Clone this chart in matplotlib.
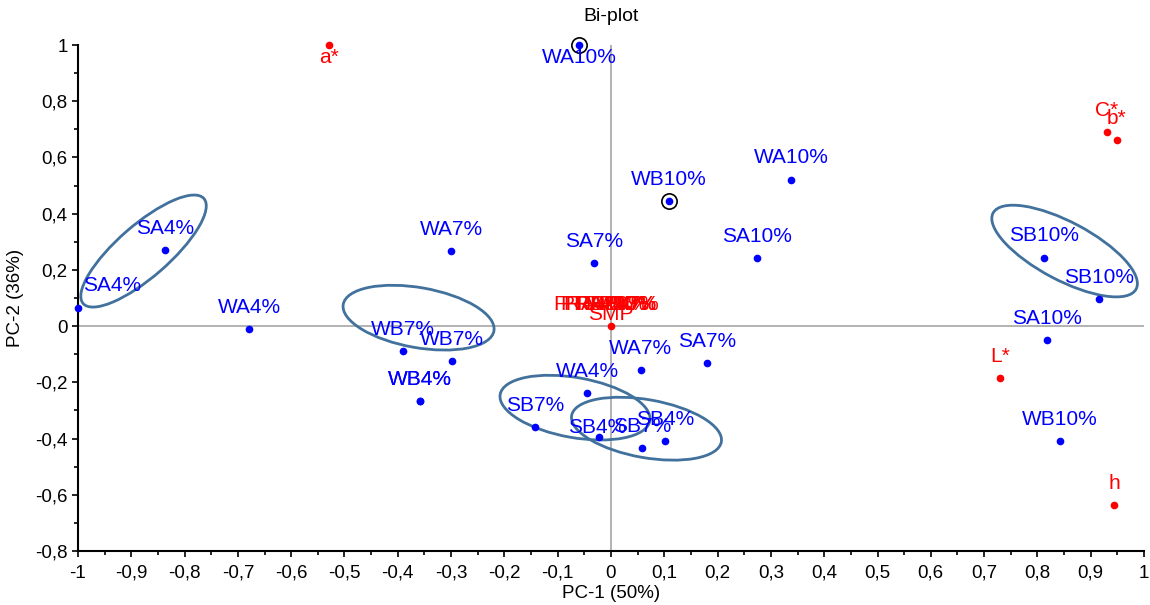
import matplotlib
matplotlib.use('Agg')
import matplotlib.pyplot as plt
import matplotlib.transforms as mtransforms
from matplotlib.patches import Ellipse
from matplotlib.ticker import MultipleLocator, FuncFormatter

plt.rcParams['font.family'] = ['Liberation Sans', 'DejaVu Sans']

# observations (blue)
obs_names = ['SA4%', 'SA4%', 'WA4%', 'WA7%', 'WB7%', 'WB7%', 'WB4%', 'WB4%',
             'WA10%', 'WB10%', 'WA10%', 'SA7%', 'SA10%', 'SA7%', 'WA7%', 'WA4%',
             'SB7%', 'SB4%', 'SB7%', 'SB4%', 'SB10%', 'SB10%', 'SA10%', 'WB10%']
obs_x = [-0.837, -1.0, -0.679, -0.300, -0.390, -0.298, -0.358, -0.358,
         -0.060, 0.109, 0.338, -0.032, 0.274, 0.180, 0.056, -0.045,
         -0.143, -0.023, 0.058, 0.101, 0.813, 0.916, 0.818, 0.842]
obs_y = [0.270, 0.063, -0.011, 0.267, -0.089, -0.125, -0.267, -0.267,
         1.0, 0.445, 0.520, 0.224, 0.242, -0.132, -0.157, -0.238,
         -0.359, -0.395, -0.434, -0.409, 0.244, 0.095, -0.050, -0.409]

# variables (red)
var_names = ['a*', 'C*', 'b*', 'L*', 'h', 'SMP']
var_x = [-0.529, 0.930, 0.949, 0.730, 0.944, 0.0]
var_y = [1.0, 0.689, 0.662, -0.185, -0.637, 0.0]

# overlapping labels sitting on the SMP point
center_names = ['FRA4%', 'PRA7%', 'FRB10%', 'PRB4%', 'RA10%', 'PB7%', 'FA7%']
center_shift = [-22, -14, -6, 2, 10, 16, 20]

# highlighted points
ring_x = [-0.060, 0.109]
ring_y = [1.0, 0.445]

# ellipses: center (data), width/height (px), angle
ell_cx = [-0.877, -0.361, -0.0675, 0.0666, 0.851]
ell_cy = [0.267, 0.030, -0.290, -0.365, 0.267]
ell_w = [160, 153, 152, 152, 162]
ell_h = [52, 60, 60, 58, 58]
ell_ang = [41, -10, -10, -10, -28]

# label offsets in pixels (default above the point)
offsets = {1: (34, 23), 8: (0, -12), 17: (-2, 10)}
var_offsets = {0: (0, -12), 5: (0, 12)}
up = 22

fig = plt.figure(figsize=(11.5, 6.05), dpi=100)
ax = fig.add_axes([0.0678, 0.0893, 0.9270, 0.8363])

ax.set_xlim(-1, 1)
ax.set_ylim(-0.8, 1)
ax.axhline(0, color='#a6a6a6', lw=1.2, zorder=1)
ax.axvline(0, color='#a6a6a6', lw=1.2, zorder=1)

for cx, cy, w, h, a in zip(ell_cx, ell_cy, ell_w, ell_h, ell_ang):
    e = Ellipse((0, 0), w, h, angle=a, fill=False, ec='#41719c', lw=2.0,
                transform=mtransforms.ScaledTranslation(cx, cy, ax.transData),
                zorder=2)
    ax.add_patch(e)

ax.plot(obs_x, obs_y, 'o', color='#0000ff', ms=4.5, zorder=4, clip_on=False)
ax.plot(var_x, var_y, 'o', color='#ff0000', ms=4.5, zorder=4, clip_on=False)
ax.plot(ring_x, ring_y, 'o', mfc='none', mec='black', ms=11, mew=1.2,
        zorder=4, clip_on=False)

px = 0.72  # pixels -> points
for i, (n, x, y) in enumerate(zip(obs_names, obs_x, obs_y)):
    dx, dy = offsets.get(i, (0, up))
    ax.annotate(n, (x, y), xytext=(dx * px, dy * px), textcoords='offset points',
                ha='center', va='center', color='#0000ff', fontsize=15, zorder=5)
for i, (n, x, y) in enumerate(zip(var_names, var_x, var_y)):
    dx, dy = var_offsets.get(i, (0, up))
    ax.annotate(n, (x, y), xytext=(dx * px, dy * px), textcoords='offset points',
                ha='center', va='center', color='#ff0000', fontsize=15, zorder=5)
for n, s in zip(center_names, center_shift):
    ax.annotate(n, (0, 0), xytext=(s * px, up * px), textcoords='offset points',
                ha='center', va='center', color='#ff0000', fontsize=15, zorder=5)


def fmt(v, pos):
    if abs(v) < 1e-9:
        v = 0
    return ('%g' % round(v, 2)).replace('.', ',')


ax.xaxis.set_major_locator(MultipleLocator(0.1))
ax.xaxis.set_minor_locator(MultipleLocator(0.05))
ax.yaxis.set_major_locator(MultipleLocator(0.2))
ax.yaxis.set_minor_locator(MultipleLocator(0.1))
ax.xaxis.set_major_formatter(FuncFormatter(fmt))
ax.yaxis.set_major_formatter(FuncFormatter(fmt))
ax.tick_params(which='both', direction='out', width=1.2, labelsize=13.5)
ax.tick_params(which='major', length=4)
ax.tick_params(which='minor', length=3)
ax.tick_params(axis='x', pad=6)

for s in ['top', 'right']:
    ax.spines[s].set_visible(False)
for s in ['left', 'bottom']:
    ax.spines[s].set_linewidth(1.5)

ax.set_xlabel('PC-1 (50%)', fontsize=13.5, labelpad=2)
ax.set_ylabel('PC-2 (36%)', fontsize=13.5, labelpad=8)
ax.set_title('Bi-plot', fontsize=14, pad=17)

fig.savefig('out.png', dpi=100)
